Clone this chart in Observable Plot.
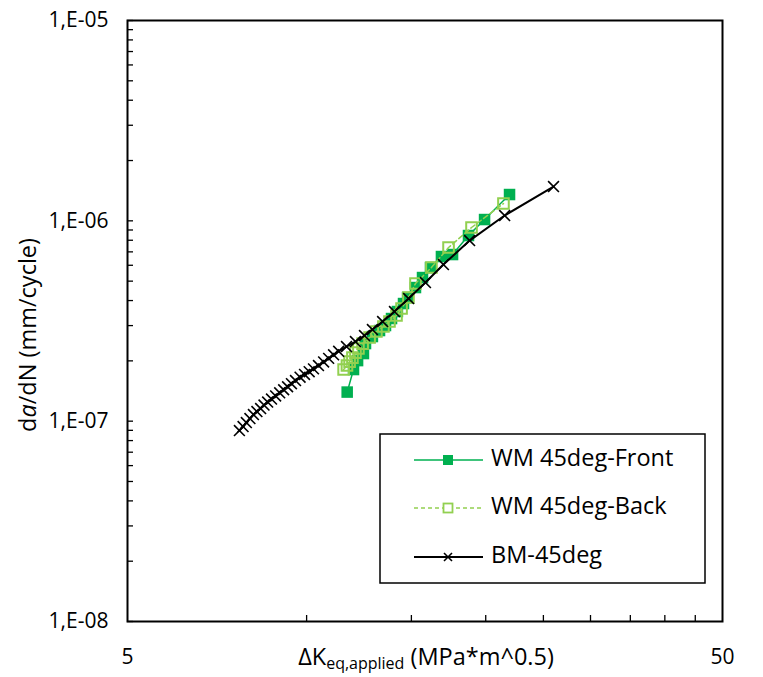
<!DOCTYPE html>
<html><head><meta charset="utf-8">
<script src="https://cdn.jsdelivr.net/npm/d3@7"></script>
<script src="https://cdn.jsdelivr.net/npm/@observablehq/plot@0.6"></script>
<style>body{margin:0;background:#fff}#chart{width:763px;height:677px}</style>
</head><body><div id="chart"></div>
<script>
// ---- data (ΔK in MPa·m^0.5, da/dN in mm/cycle) ----
const frontX = [11.70, 11.99, 12.18, 12.46, 12.56, 12.90, 13.26, 13.57, 13.89, 14.21, 14.55, 14.78, 15.24, 15.66, 16.15, 16.85, 17.59, 18.71, 19.91, 21.93];
const frontY = [1.397e-7, 1.810e-7, 2.006e-7, 2.175e-7, 2.440e-7, 2.645e-7, 2.834e-7, 3.001e-7, 3.253e-7, 3.526e-7, 3.865e-7, 4.141e-7, 4.645e-7, 5.211e-7, 5.846e-7, 6.634e-7, 6.788e-7, 8.446e-7, 1.015e-6, 1.353e-6];
const backX = [11.54, 11.69, 11.81, 11.94, 12.08, 12.22, 12.42, 12.76, 13.10, 13.46, 13.78, 14.16, 14.44, 14.83, 15.24, 16.21, 17.32, 18.93, 21.42];
const backY = [1.810e-7, 1.895e-7, 1.984e-7, 2.077e-7, 2.200e-7, 2.304e-7, 2.440e-7, 2.615e-7, 2.801e-7, 2.967e-7, 3.143e-7, 3.367e-7, 3.650e-7, 4.141e-7, 4.864e-7, 5.846e-7, 7.357e-7, 9.26e-7, 1.220e-6];
const bmX = [7.71, 7.82, 7.92, 8.03, 8.14, 8.25, 8.37, 8.48, 8.60, 8.73, 8.87, 9.01, 9.15, 9.29, 9.43, 9.58, 9.75, 9.92, 10.10, 10.27, 10.47, 10.68, 10.89, 11.10, 11.32, 11.67, 12.08, 12.51, 12.90, 13.42, 14.05, 14.84, 15.84, 16.98, 18.79, 21.52, 26.0];
const bmY = [8.98e-8, 9.40e-8, 9.84e-8, 1.030e-7, 1.079e-7, 1.117e-7, 1.156e-7, 1.203e-7, 1.245e-7, 1.289e-7, 1.336e-7, 1.385e-7, 1.435e-7, 1.485e-7, 1.539e-7, 1.595e-7, 1.657e-7, 1.711e-7, 1.767e-7, 1.824e-7, 1.895e-7, 1.975e-7, 2.058e-7, 2.143e-7, 2.231e-7, 2.357e-7, 2.497e-7, 2.676e-7, 2.866e-7, 3.143e-7, 3.526e-7, 4.094e-7, 4.920e-7, 6.05e-7, 7.97e-7, 1.063e-6, 1.483e-6];
const seriesNames = ["WM 45deg-Front", "WM 45deg-Back", "BM-45deg"];
const xMajor = [5, 50];
const xMinor = [10, 15, 20, 25, 30, 35, 40, 45];
const yMajor = [1e-8, 1e-7, 1e-6, 1e-5];
const yLabels = ["1,E-08", "1,E-07", "1,E-06", "1,E-05"];
const yMinor = [1e-8, 1e-7, 1e-6].flatMap(b => [1,2,3,4,5,6,7,8,9].map(k => k * b)).concat([1e-5]);

const FRONT = "#00B050", BACK = "#92D050", FONT = "'Open Sans', sans-serif";
const front = frontX.map((x, i) => ({x, y: frontY[i]}));
const back = backX.map((x, i) => ({x, y: backY[i]}));
const bm = bmX.map((x, i) => ({x, y: bmY[i]}));
const yLabelOf = d => yLabels[yMajor.findIndex(v => Math.abs(Math.log10(v) - Math.log10(d)) < 1e-6)];

const chart = Plot.plot({
  width: 763, height: 677,
  marginLeft: 127, marginRight: 41, marginTop: 20, marginBottom: 56,
  x: {type: "log", domain: [5, 50]},
  y: {type: "log", domain: [1e-8, 1e-5]},
  style: {fontFamily: FONT, fontSize: "21px", color: "#000", background: "#fff"},
  marks: [
    Plot.axisX(xMinor, {tickSize: 6, dy: -6, tickFormat: () => "", label: null, strokeWidth: 1.3}),
    Plot.axisX(xMajor, {tickSize: 0, tickPadding: 28, tickFormat: d => String(d), label: null}),
    Plot.axisY(yMinor, {tickSize: 6, dx: 6, tickFormat: () => "", label: null, strokeWidth: 1.3}),
    Plot.axisY(yMajor, {tickSize: 0, tickPadding: 19, tickFormat: yLabelOf, label: null}),
    Plot.frame({stroke: "#000", strokeWidth: 2}),
    Plot.line(front, {x: "x", y: "y", stroke: FRONT, strokeWidth: 1.5}),
    Plot.dot(front, {x: "x", y: "y", symbol: "square", r: 6.5, fill: FRONT, stroke: null}),
    Plot.line(back, {x: "x", y: "y", stroke: BACK, strokeWidth: 1.5, strokeDasharray: "5,3"}),
    Plot.dot(back, {x: "x", y: "y", symbol: "square", r: 6, fill: "none", stroke: BACK, strokeWidth: 2}),
    Plot.line(bm, {x: "x", y: "y", stroke: "#000", strokeWidth: 2}),
    Plot.dot(bm, {x: "x", y: "y", symbol: "times", r: 5, stroke: "#000", strokeWidth: 1.6})
  ]
});
document.getElementById("chart").appendChild(chart);

const svg = d3.select(chart);
// y axis title
const yt = svg.append("text").attr("transform", "translate(30,335) rotate(-90)")
  .attr("text-anchor", "middle").attr("dominant-baseline", "middle")
  .style("font-family", FONT).style("font-size", "23.5px").attr("fill", "#000");
yt.append("tspan").text("d");
yt.append("tspan").style("font-style", "italic").text("a");
yt.append("tspan").text("/dN (mm/cycle)");
// x axis title
const xt = svg.append("text").attr("x", 426).attr("y", 665).attr("text-anchor", "middle")
  .style("font-family", FONT).style("font-size", "23.5px").attr("fill", "#000");
xt.append("tspan").text("ΔK");
xt.append("tspan").attr("dy", 4).style("font-size", "16px").text("eq,applied");
xt.append("tspan").attr("dy", -4).text(" (MPa*m^0.5)");

// legend
const lg = svg.append("g");
lg.append("rect").attr("x", 380).attr("y", 434).attr("width", 325).attr("height", 149)
  .attr("fill", "#fff").attr("stroke", "#000").attr("stroke-width", 1.5);
const rows = [460, 508, 557];
const styles = [
  {stroke: FRONT, dash: null, marker: "fsq"},
  {stroke: BACK, dash: "4,3", marker: "osq"},
  {stroke: "#000", dash: null, marker: "x"}
];
seriesNames.forEach((name, i) => {
  const y = rows[i], s = styles[i];
  lg.append("line").attr("x1", 414).attr("x2", 483).attr("y1", y).attr("y2", y)
    .attr("stroke", s.stroke).attr("stroke-width", i === 2 ? 2 : 1.5).attr("stroke-dasharray", s.dash);
  if (s.marker === "fsq") lg.append("rect").attr("x", 443).attr("y", y - 5).attr("width", 10).attr("height", 10).attr("fill", FRONT);
  if (s.marker === "osq") lg.append("rect").attr("x", 443.5).attr("y", y - 4.5).attr("width", 9).attr("height", 9).attr("fill", "#fff").attr("stroke", BACK).attr("stroke-width", 1.8);
  if (s.marker === "x") lg.append("path").attr("d", `M444,${y-4}L452,${y+4}M452,${y-4}L444,${y+4}`).attr("stroke", "#000").attr("stroke-width", 1.6);
  lg.append("text").attr("x", 491).attr("y", y).attr("text-anchor", "start").attr("dominant-baseline", "middle")
    .style("font-family", FONT).style("font-size", "23.5px").attr("fill", "#000").text(name);
});
</script></body></html>
